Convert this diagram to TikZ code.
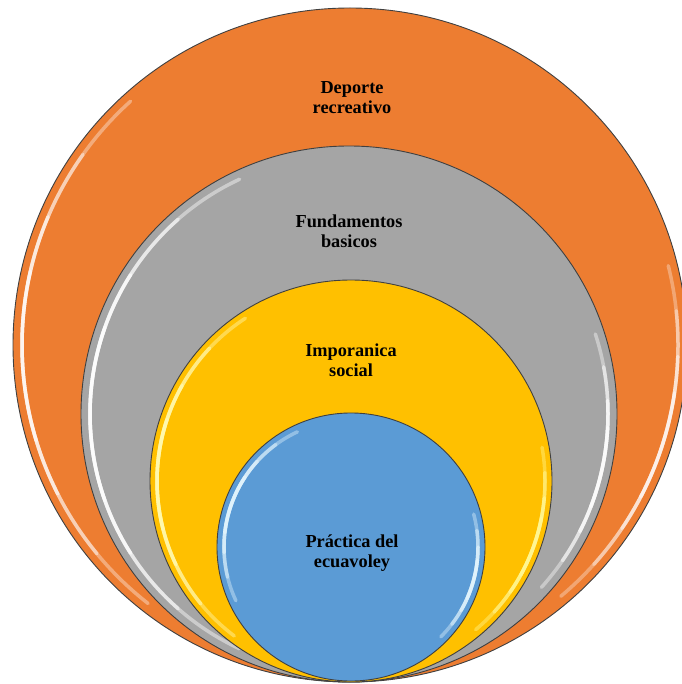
\documentclass[tikz,border=0pt]{standalone}
\usepackage{fontspec}
\setmainfont{Liberation Serif}
\definecolor{corange}{HTML}{ED7D31}
\definecolor{cgray}{HTML}{A5A5A5}
\definecolor{cyellow}{HTML}{FFC000}
\definecolor{cblue}{HTML}{5B9BD5}
\newcommand{\glint}[6]{% node, radius, mid angle, color, strength, half span
  \foreach \f/\o in {1/0.2,0.75/0.25,0.5/0.3,0.3/0.3}{%
    \pgfmathsetmacro{\s}{#6*\f}%
    \draw[#4, line width=3.5pt, opacity=#5*\o, line cap=round]
      (#1.center) ++({#3-\s}:#2) arc[start angle={#3-\s}, end angle={#3+\s}, radius=#2];
  }%
}
\begin{document}
\begin{tikzpicture}[x=1pt,y=1pt]
\tikzset{
  ring/.style={circle, draw=black!75, line width=0.9pt, inner sep=0pt, minimum size=#1},
  lbl/.style={font=\fontsize{18.3}{20}\selectfont\bfseries, align=center, text=black, inner sep=0pt}
}
\useasboundingbox (0,0) rectangle (681,-684);
\fill[white] (0,0) rectangle (681,-684);
% outer orange
\node[ring=674pt, fill=corange] (o) at (350,-345) {};
\glint{o}{328}{182}{white}{1.8}{50}
\glint{o}{328}{-18}{white}{1.6}{32}
% gray
\node[ring=536pt, fill=cgray] (g) at (349,-414) {};
\glint{g}{259}{180}{white}{2.2}{65}
\glint{g}{259}{-12}{white}{2.0}{30}
% yellow
\node[ring=402pt, fill=cyellow] (y) at (351,-481) {};
\glint{y}{194}{178}{yellow!30}{2.2}{55}
\glint{y}{194}{-20}{yellow!40}{2.0}{30}
% blue
\node[ring=268pt, fill=cblue] (b) at (351,-547) {};
\glint{b}{127}{160}{cyan!10}{2.0}{45}
\glint{b}{127}{-15}{cyan!10}{2.0}{30}
% labels
\node[lbl] (to) at (352,-98) {Deporte\\recreativo};
\node[lbl] (tg) at (349,-231) {Fundamentos\\basicos};
\node[lbl] (ty) at (351,-360) {Imporanica\\social};
\node[lbl] (tb) at (352,-553) {Práctica del\\ecuavoley};
\end{tikzpicture}
\end{document}
